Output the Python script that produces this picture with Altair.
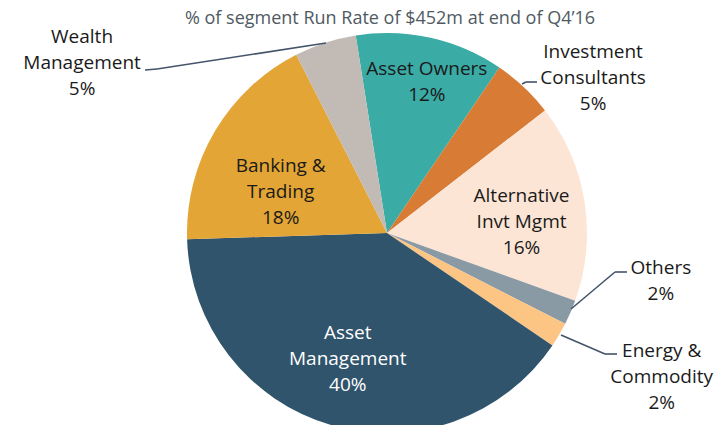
import math
import altair as alt
import pandas as pd

# ---------------- data ----------------
categories = ["Asset Owners", "Investment Consultants", "Alternative Invt Mgmt",
              "Others", "Energy & Commodity", "Asset Management",
              "Banking & Trading", "Wealth Management"]
shares = [12, 5, 16, 2, 2, 40, 18, 5]
label_lines = ["Asset Owners", "Investment\nConsultants", "Alternative\nInvt Mgmt",
               "Others", "Energy &\nCommodity", "Asset\nManagement",
               "Banking &\nTrading", "Wealth\nManagement"]
title_text = "% of segment Run Rate of $452m at end of Q4\u201916"

# ---------------- style ----------------
colors = ["#3AABA5", "#D87B35", "#FDE5D5", "#8A9AA5", "#FDC584",
          "#30546B", "#E3A535", "#C2BAB4"]
text_colors = ["#1A1A1A", "#1A1A1A", "#1A1A1A", "#1A1A1A", "#1A1A1A",
               "#FFFFFF", "#1A1A1A", "#1A1A1A"]
# label placement (block centre): (angle in degrees clockwise from 12 o'clock, radius px)
label_polar = [(14.8, 156), (53.0, 258), (85.3, 135), (99.9, 278),
               (117.6, 310), (197.3, 132), (291.1, 114), (299.1, 349)]
START_DEG = -9.0
CX, CY = 379, 225
R = 200
FONT = "Open Sans"
LINE = "#44546A"
LH = 26

total = float(sum(shares))
starts, ends = [], []
acc = 0.0
for v in shares:
    starts.append(acc)
    acc += v
    ends.append(acc)

labels_full = [f"{l}\n{s}%" for l, s in zip(label_lines, shares)]
df = pd.DataFrame({
    "category": categories,
    "share": shares,
    "start": starts,
    "end": ends,
    "label": labels_full,
    "nlines": [t.count("\n") + 1 for t in labels_full],
    "tcolor": text_colors,
    "lab_theta": [((a - START_DEG) % 360) / 360 * total for a, _ in label_polar],
    "lab_r": [r for _, r in label_polar],
})

theta_scale = alt.Scale(domain=[0, total],
                        range=[math.radians(360 + START_DEG),
                               math.radians(720 + START_DEG)])

arcs = alt.Chart(df).mark_arc(outerRadius=R, stroke=None).encode(
    theta=alt.Theta("start:Q", scale=theta_scale, stack=None),
    theta2="end:Q",
    color=alt.Color("category:N", scale=alt.Scale(domain=categories, range=colors),
                    legend=None),
    x=alt.value(CX), y=alt.value(CY),
)

label_layers = []
for n in sorted(set(df["nlines"])):
    label_layers.append(
        alt.Chart(df).transform_filter(alt.datum.nlines == n).mark_text(
            font=FONT, fontSize=19, align="center", baseline="middle",
            lineBreak="\n", lineHeight=LH, dy=-(n - 1) * LH / 2,
        ).encode(
            theta=alt.Theta("lab_theta:Q", scale=theta_scale, stack=None),
            radius=alt.Radius("lab_r:Q", scale=None),
            text="label:N",
            color=alt.Color("tcolor:N", scale=None),
            x=alt.value(CX), y=alt.value(CY),
        )
    )

title = alt.Chart(alt.Data(values=[{"t": title_text}])).mark_text(
    font=FONT, fontSize=18, align="center", baseline="alphabetic", color="#505A63",
).encode(text="t:N", x=alt.value(382), y=alt.value(15.5))

leader_segments = [
    ((137, 62), (149, 61)), ((149, 61), (318, 35)),
    ((514, 76), (518, 74)), ((518, 74), (529, 74)),
    ((563, 301), (607, 264)), ((607, 264), (619, 264)),
    ((553, 327), (597, 346)), ((597, 346), (609, 346)),
]
rules = []
for (x1, y1), (x2, y2) in leader_segments:
    rules.append(
        alt.Chart(alt.Data(values=[{}])).mark_rule(color=LINE, strokeWidth=1.6).encode(
            x=alt.value(x1), y=alt.value(y1), x2=alt.value(x2), y2=alt.value(y2)
        )
    )

chart = alt.layer(arcs, *label_layers, title, *rules).properties(
    width=710, height=417, autosize=alt.AutoSizeParams(type="none"), padding=0,
).resolve_scale(color="independent").configure_view(stroke=None)

chart.save("out.html", embed_options={"renderer": "svg", "actions": False})
